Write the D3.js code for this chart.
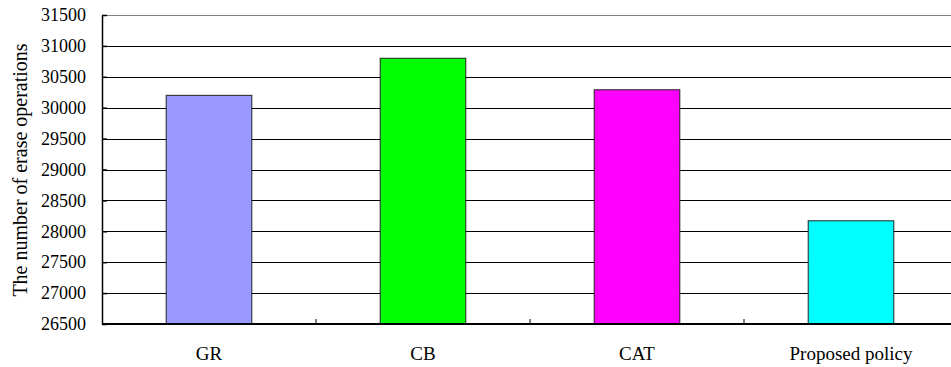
<!DOCTYPE html>
<html>
<head>
<meta charset="utf-8">
<script src="https://cdn.jsdelivr.net/npm/d3@7"></script>
<style>
  body { margin: 0; background: #fff; }
  text { font-family: "Liberation Serif", "Times New Roman", serif; fill: #000; }
</style>
</head>
<body>
<div class="vis-barchart"></div>
<script>
const categories = ["GR", "CB", "CAT", "Proposed policy"];
const erases = [30200, 30800, 30290, 28170];
const colors = ["#9999ff", "#00ff00", "#ff00ff", "#00ffff"];
const yTicks = [26500, 27000, 27500, 28000, 28500, 29000, 29500, 30000, 30500, 31000, 31500];

const W = 951, H = 367;
// plot area runs a little past the right edge, as in the original
const margin = { top: 15, right: -7, bottom: 43, left: 102 };
const width = W - margin.left - margin.right;
const height = H - margin.top - margin.bottom;

const svg = d3.select(".vis-barchart")
    .append("svg")
    .attr("width", W)
    .attr("height", H)
    .style("display", "block");

const g = svg.append("g")
    .attr("transform", `translate(${margin.left},${margin.top})`);

const x = d3.scaleBand()
    .domain(categories)
    .range([0, width])
    .paddingInner(0.6)
    .paddingOuter(0.3);

const y = d3.scaleLinear()
    .domain([26500, 31500])
    .range([height, 0]);

// gridlines (top one is the grey plot border)
g.append("g")
    .selectAll("line")
    .data(yTicks.slice(1))
    .join("line")
    .attr("x1", 0)
    .attr("x2", width)
    .attr("y1", d => Math.round(y(d)) + 0.5)
    .attr("y2", d => Math.round(y(d)) + 0.5)
    .attr("stroke", d => d === 31500 ? "#808080" : "#000")
    .attr("stroke-width", 1);

// bars
g.append("g")
    .selectAll("rect")
    .data(categories)
    .join("rect")
    .attr("x", d => x(d))
    .attr("y", (d, i) => y(erases[i]))
    .attr("width", x.bandwidth())
    .attr("height", (d, i) => height - y(erases[i]))
    .attr("fill", (d, i) => colors[i])
    .attr("stroke", "#222")
    .attr("stroke-width", 1);

// y axis
const yAxis = g.append("g")
    .call(d3.axisLeft(y).tickValues(yTicks).tickSize(5).tickSizeOuter(0).tickFormat(d3.format("d")));
yAxis.select(".domain").attr("stroke", "#000").attr("stroke-width", 1.5);
yAxis.selectAll(".tick line").attr("stroke", "#000").attr("stroke-width", 1.5).attr("x2", 5);
yAxis.selectAll(".tick text").style("font-size", "18px").attr("x", -16);

// x axis with separators between categories
const gap = (x.step() - x.bandwidth()) / 2;
const xAxis = g.append("g")
    .attr("transform", `translate(0,${height})`);
xAxis.append("line")
    .attr("x1", 0).attr("x2", width)
    .attr("stroke", "#000").attr("stroke-width", 2);
xAxis.selectAll("line.sep")
    .data(categories.slice(1))
    .join("line")
    .attr("class", "sep")
    .attr("x1", d => x(d) - gap)
    .attr("x2", d => x(d) - gap)
    .attr("y1", -5).attr("y2", 0)
    .attr("stroke", "#000").attr("stroke-width", 1);
xAxis.selectAll("text")
    .data(categories)
    .join("text")
    .attr("x", d => x(d) + x.bandwidth() / 2)
    .attr("y", 36)
    .attr("text-anchor", "middle")
    .style("font-size", "19px")
    .text(d => d);

// y title
svg.append("text")
    .attr("transform", `translate(27,170) rotate(-90)`)
    .attr("text-anchor", "middle")
    .style("font-size", "20px")
    .text("The number of erase operations");
</script>
</body>
</html>
